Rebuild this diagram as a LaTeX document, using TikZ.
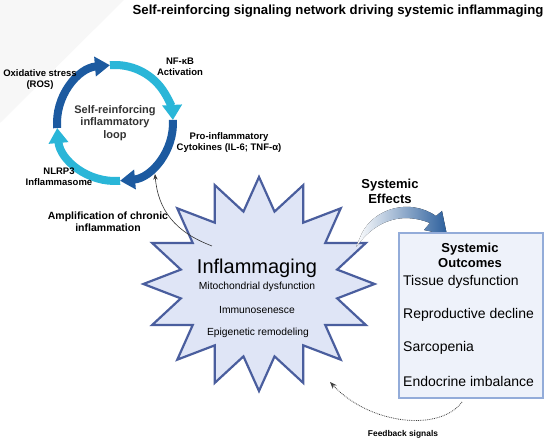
\documentclass[tikz,border=0pt]{standalone}
\usepackage{fontspec}
\setmainfont{Liberation Sans}
\usepackage{tikz}
\usetikzlibrary{arrows.meta, shapes.geometric, positioning}
\definecolor{ringdark}{HTML}{1C5AA0}
\definecolor{ringlight}{HTML}{2AB6D8}
\definecolor{starline}{HTML}{4A5E9E}
\definecolor{starfill}{HTML}{DFE5F6}
\definecolor{boxline}{HTML}{93ACD9}
\definecolor{boxfill}{HTML}{EEF2FA}
\definecolor{swoosh}{HTML}{2C5F9C}

\begin{document}
\begin{tikzpicture}[x=1pt, y=1pt, >=Stealth,   %Pfeilspitzen
  lbl/.style={font=\fontsize{9.5}{11}\selectfont\bfseries, align=center, inner sep=0pt},
  ring/.style={line width=8pt, -{Triangle[width=19pt,length=15pt]}},
  item/.style={font=\fontsize{14}{16}\selectfont, anchor=west, inner sep=0pt},
  startxt/.style={font=\fontsize{10.3}{12}\selectfont, inner sep=0pt}]
  \useasboundingbox (0,0) rectangle (550,443);
  \fill[white] (0,0) rectangle (550,443);
  \fill[gray!6] (0,443) -- (124,443) -- (0,320) -- cycle;
  \node[font=\fontsize{13.2}{15}\selectfont\bfseries] (title) at (338,432) {Self-reinforcing signaling network driving systemic inflammaging};
  % Kreislauf
  \coordinate (loopc) at (115,320);
  \draw[ring, ringdark] ([shift={(185:58)}]loopc) arc[start angle=185, end angle=95, radius=58];
  \draw[ring, ringlight] ([shift={(95:58)}]loopc) arc[start angle=95, end angle=3, radius=58];
  \draw[ring, ringdark] ([shift={(3:58)}]loopc) arc[start angle=3, end angle=-85, radius=58];
  \draw[ring, ringlight] ([shift={(-85:58)}]loopc) arc[start angle=-85, end angle=-175, radius=58];
  \node[font=\fontsize{11}{12.5}\selectfont\bfseries, text=black!80, align=center] (loop) at (loopc) {Self-reinforcing\\inflammatory\\loop};
  \node[lbl] (nfkb) at (180,376) {NF-κB\\Activation};
  \node[lbl] (ros) at (40,363) {Oxidative stress\\(ROS)};
  \node[lbl] (cyto) at (229,300) {Pro-inflammatory\\Cytokines (IL-6; TNF-α)};
  \node[lbl] (nlrp) at (59,266) {NLRP3\\Inflammasome};
  \node[lbl, font=\fontsize{10.5}{12.5}\selectfont\bfseries] (ampl) at (108,221) {Amplification of chronic\\inflammation};
  % Stern
  \begin{scope}[shift={(259,159)}, xscale=1.08]
    \node[star, star points=16, star point ratio=1.45, minimum size=214pt, draw=starline, fill=starfill, line width=2.2pt, transform shape] (infl) at (0,0) {};
  \end{scope}
  \node[font=\fontsize{20}{22}\selectfont, inner sep=0pt] (inflt) at (257,175) {Inflammaging};
  \node[startxt] (mito) at (257,156) {Mitochondrial dysfunction};
  \node[startxt] (immu) at (257,133) {Immunosenesce};
  \node[startxt] (epig) at (258,110) {Epigenetic remodeling};
  % Verstaerkung
  \coordinate (ampstart) at (212,197);
  \coordinate (amptip) at (155,269);
  \draw[black!80, line width=0.6pt, ->] (ampstart) .. controls (175,211) and (158,233) .. (amptip);
  % Systemische Effekte
  \node[font=\fontsize{13}{15}\selectfont\bfseries, align=center] (effects) at (390,252) {Systemic\\Effects};
  \fill[left color=white, right color=swoosh] (356,196) .. controls (378,226) and (405,230) .. (430,220)
    -- (424,213) -- (447,208) -- (442,232) -- (436,227) .. controls (410,245) and (375,235) .. (362,210) -- cycle;
  \node[draw=boxline, fill=boxfill, line width=1.2pt, minimum width=144pt, minimum height=165pt] (outc) at (471,127.5) {};
  \node[font=\fontsize{13}{15}\selectfont\bfseries, align=center] (outh) at (470,188) {Systemic\\Outcomes};
  \node[item] (tis) at (403,161) {Tissue dysfunction};
  \node[item] (rep) at (403,128) {Reproductive decline};
  \node[item] (sar) at (403,95) {Sarcopenia};
  \node[item] (end) at (403,61) {Endocrine imbalance};
  % Rueckkopplung
  \coordinate (fbstart) at (462,41);
  \coordinate (fbtip) at (330,61);
  \draw[black!75, line width=0.8pt, densely dotted, -{Stealth[length=7pt]}] (fbstart) .. controls (440,11) and (370,18) .. (fbtip);
  \node[font=\fontsize{8.4}{10}\selectfont\bfseries] (fb) at (403,9) {Feedback signals};
\end{tikzpicture}
\end{document}
